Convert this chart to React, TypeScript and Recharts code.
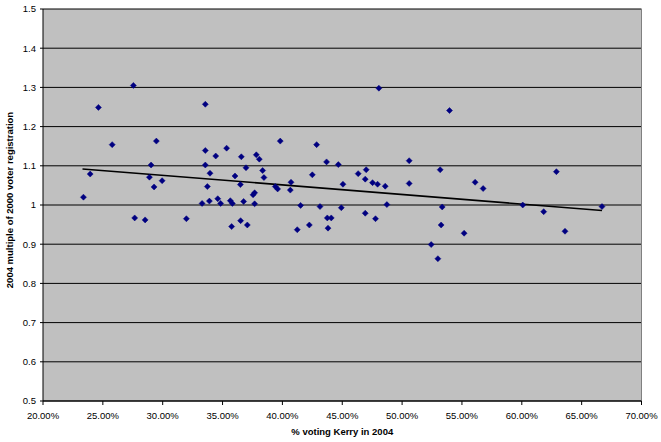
import React from "react";
import {
  ScatterChart,
  Scatter,
  XAxis,
  YAxis,
  CartesianGrid,
  ReferenceLine,
} from "recharts";

const kerryPct = [
  27.55, 24.63, 33.56, 25.78, 29.47, 23.38, 23.94, 29.03, 28.89, 29.28,
  29.95, 27.66, 28.53, 31.98, 33.56, 33.56, 33.95, 33.73, 33.29, 33.9,
  34.43, 34.6, 34.84, 35.34, 36.04, 36.49, 36.57, 36.96, 35.65, 35.82,
  36.76, 37.55, 37.68, 37.68, 37.82, 38.07, 35.76, 36.51, 37.07, 38.35,
  38.46, 39.82, 39.41, 39.6, 40.72, 40.66, 41.52, 41.24, 42.25, 42.5,
  42.86, 43.14, 43.69, 43.75, 44.08, 43.81, 44.67, 45.06, 44.92, 46.33,
  47.0, 46.92, 47.53, 47.95, 48.59, 46.92, 47.78, 48.06, 48.73, 50.59,
  50.59, 53.18, 53.35, 53.26, 53.96, 56.1, 56.77, 55.18, 60.08, 61.83,
  62.89, 63.61, 66.7, 52.43, 52.99,
];

const regMultiple = [
  1.305, 1.249, 1.257, 1.154, 1.163, 1.02, 1.079, 1.102, 1.071, 1.046,
  1.062, 0.967, 0.962, 0.965, 1.139, 1.102, 1.081, 1.047, 1.004, 1.01,
  1.125, 1.016, 1.004, 1.145, 1.074, 1.052, 1.123, 1.095, 1.011, 1.004,
  1.009, 1.026, 1.031, 1.003, 1.128, 1.117, 0.945, 0.96, 0.949, 1.088,
  1.07, 1.163, 1.047, 1.041, 1.058, 1.038, 0.999, 0.937, 0.949, 1.077,
  1.154, 0.996, 1.11, 0.967, 0.967, 0.941, 1.103, 1.053, 0.993, 1.08,
  1.09, 1.066, 1.057, 1.053, 1.048, 0.979, 0.965, 1.298, 1.001, 1.113,
  1.055, 1.09, 0.995, 0.949, 1.241, 1.058, 1.042, 0.928, 1.0, 0.983,
  1.085, 0.933, 0.996, 0.899, 0.863,
];

const trendX = [23.3, 66.7];
const trendY = [1.092, 0.986];

const xTicks = [20, 25, 30, 35, 40, 45, 50, 55, 60, 65, 70];
const yTicks = [0.5, 0.6, 0.7, 0.8, 0.9, 1.0, 1.1, 1.2, 1.3, 1.4, 1.5];

const xTitle = "% voting Kerry in 2004";
const yTitle = "2004 multiple of 2000 voter registration";

const points = kerryPct.map((x, i) => ({ x, y: regMultiple[i] }));

const FONT = "'Liberation Sans', Arial, sans-serif";

const Diamond = (props: any) => {
  const { cx, cy } = props;
  if (cx == null || cy == null) return null;
  const r = 3;
  return (
    <polygon
      points={`${cx},${cy - r} ${cx + r},${cy} ${cx},${cy + r} ${cx - r},${cy}`}
      fill="#000080"
      stroke="#000080"
      strokeWidth={0.5}
    />
  );
};

const YTitle = (props: any) => {
  const vb = props.viewBox || {};
  const x = (vb.x ?? 0) + 13;
  const y = (vb.y ?? 0) + (vb.height ?? 0) / 2 - 5;
  return (
    <text
      x={x}
      y={y}
      transform={`rotate(-90, ${x}, ${y})`}
      textAnchor="middle"
      fontFamily={FONT}
      fontSize={9.5}
      fontWeight="bold"
      fill="#000"
    >
      {yTitle}
    </text>
  );
};

const XTitle = (props: any) => {
  const vb = props.viewBox || {};
  const x = (vb.x ?? 0) + (vb.width ?? 0) / 2;
  const y = (vb.y ?? 0) + 33.5;
  return (
    <text
      x={x}
      y={y}
      textAnchor="middle"
      fontFamily={FONT}
      fontSize={9.5}
      fontWeight="bold"
      fill="#000"
    >
      {xTitle}
    </text>
  );
};

export default function App() {
  return (
    <div
      style={{
        position: "absolute",
        left: 0,
        top: 0,
        width: 661,
        height: 442,
        background: "#fff",
      }}
    >
      <ScatterChart
        width={661}
        height={442}
        margin={{ top: 9, right: 19.5, bottom: 0, left: 0 }}
      >
        <CartesianGrid
          vertical={false}
          horizontal={true}
          stroke="#000"
          strokeWidth={1}
          fill="#c0c0c0"
          fillOpacity={1}
        />
        <XAxis
          type="number"
          dataKey="x"
          domain={[20, 70]}
          ticks={xTicks}
          interval={0}
          allowDataOverflow
          height={41}
          tickSize={4}
          tickMargin={7}
          tickFormatter={(v: number) => `${v.toFixed(2)}%`}
          tick={{ fontFamily: FONT, fontSize: 9.5, fill: "#000" }}
          axisLine={{ stroke: "#000" }}
          tickLine={{ stroke: "#000" }}
          label={<XTitle />}
        />
        <YAxis
          type="number"
          dataKey="y"
          domain={[0.5, 1.5]}
          ticks={yTicks}
          interval={0}
          allowDataOverflow
          width={43}
          tickSize={3}
          tickMargin={4}
          tickFormatter={(v: number) => String(Math.round(v * 10) / 10)}
          tick={{ fontFamily: FONT, fontSize: 9.5, fill: "#000" }}
          axisLine={{ stroke: "#000" }}
          tickLine={{ stroke: "#000" }}
          label={<YTitle />}
        />
        <ReferenceLine x={70} stroke="#808080" strokeWidth={1} />
        <Scatter
          data={points}
          shape={<Diamond />}
          isAnimationActive={false}
        />
        <ReferenceLine
          segment={[
            { x: trendX[0], y: trendY[0] },
            { x: trendX[1], y: trendY[1] },
          ]}
          stroke="#000"
          strokeWidth={1.6}
          ifOverflow="visible"
        />
      </ScatterChart>
    </div>
  );
}
